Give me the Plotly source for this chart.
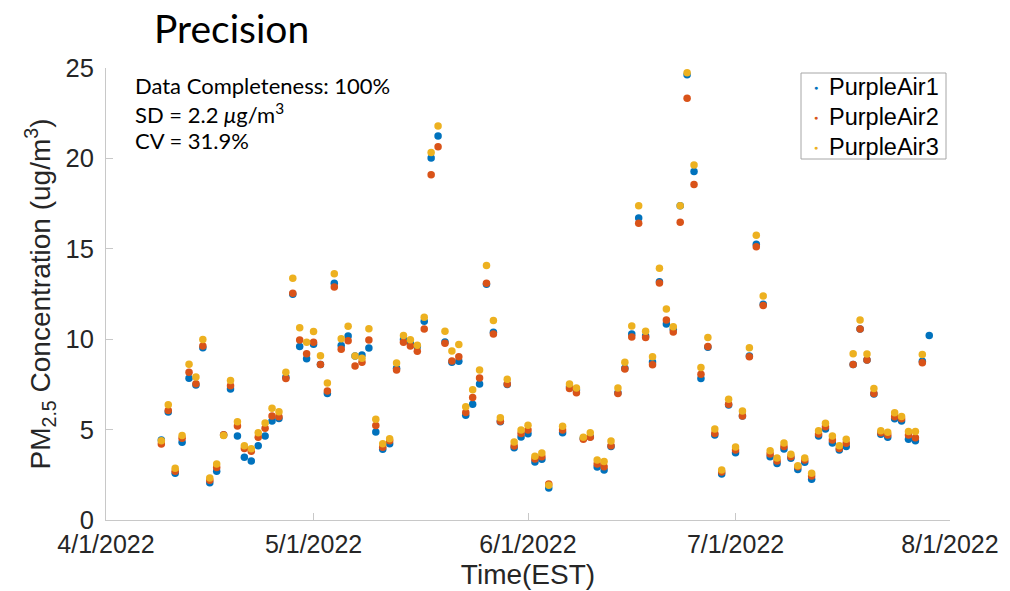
import plotly.graph_objects as go
import pandas as pd

# day offsets from 2022-04-01 (one value per day; 2022-06-05 missing)
day_offsets = list(range(8, 65)) + list(range(66, 120))

pa1 = [4.42, 5.97, 2.58, 4.30, 7.84, 7.47, 9.53, 2.06, 2.69, 4.70,
       7.25, 4.65, 3.47, 3.26, 4.11, 4.65, 5.48, 5.62, 7.89, 12.48,
       9.59, 8.92, 9.72, 8.60, 7.00, 13.09, 9.65, 10.18, 9.07, 9.13,
       9.51, 4.87, 3.91, 4.22, 8.39, 9.99, 9.77, 9.59, 10.99, 20.02,
       21.24, 9.85, 8.72, 8.78, 5.79, 6.40, 7.52, 13.04, 10.38, 5.44,
       7.50, 4.00, 4.59, 4.77, 3.21, 3.36, 1.77,
       4.83, 7.37, 7.19, 4.52, 4.61, 2.93, 2.77, 4.06, 7.04, 8.39,
       10.29, 16.70, 10.18, 8.74, 13.18, 10.84, 10.55, 17.38, 24.63, 19.27,
       7.82, 9.55, 4.70, 2.54, 6.36, 3.72, 5.75, 9.07, 15.25, 11.93,
       3.50, 3.13, 3.93, 3.41, 2.80, 3.19, 2.25, 4.65, 5.03, 4.26,
       3.87, 4.06, 8.60, 10.56, 8.85, 6.97, 4.74, 4.57, 5.60, 5.48,
       4.46, 4.39, 8.78, 10.20]

pa2 = [4.20, 6.05, 2.70, 4.52, 8.17, 7.54, 9.62, 2.20, 2.91, 4.72,
       7.43, 5.20, 3.96, 3.80, 4.57, 5.07, 5.75, 5.71, 7.82, 12.54,
       9.96, 9.20, 9.83, 8.60, 7.13, 12.89, 9.44, 9.92, 8.52, 8.72,
       9.96, 5.22, 4.02, 4.39, 8.30, 9.83, 9.62, 9.33, 10.56, 19.10,
       20.65, 9.77, 8.79, 9.03, 5.94, 6.77, 7.85, 13.09, 10.29, 5.46,
       7.52, 4.09, 4.79, 4.98, 3.37, 3.50, 1.99,
       4.98, 7.28, 7.04, 4.46, 4.57, 3.10, 2.95, 4.11, 7.00, 8.35,
       10.12, 16.41, 10.10, 8.59, 13.11, 11.06, 10.40, 16.47, 23.32, 18.55,
       8.06, 9.59, 4.79, 2.65, 6.40, 3.87, 5.75, 9.03, 15.12, 11.87,
       3.65, 3.26, 4.06, 3.50, 2.95, 3.32, 2.43, 4.76, 5.16, 4.42,
       3.96, 4.24, 8.60, 10.56, 8.85, 7.00, 4.83, 4.70, 5.71, 5.60,
       4.70, 4.55, 8.70, None]

pa3 = [4.39, 6.38, 2.86, 4.68, 8.61, 7.91, 9.99, 2.32, 3.10, 4.68,
       7.72, 5.44, 4.11, 3.94, 4.83, 5.36, 6.18, 5.99, 8.17, 13.37,
       10.64, 9.83, 10.42, 9.09, 7.58, 13.62, 10.03, 10.71, 9.07, 8.94,
       10.58, 5.57, 4.22, 4.50, 8.68, 10.20, 9.97, 9.66, 11.21, 20.32,
       21.79, 10.44, 9.35, 9.70, 6.27, 7.21, 8.30, 14.07, 11.04, 5.66,
       7.78, 4.31, 4.98, 5.24, 3.52, 3.71, 1.92,
       5.18, 7.52, 7.30, 4.57, 4.83, 3.32, 3.23, 4.37, 7.30, 8.72,
       10.73, 17.38, 10.44, 9.03, 13.92, 11.67, 10.69, 17.38, 24.74, 19.63,
       8.44, 10.10, 5.03, 2.77, 6.68, 4.04, 6.03, 9.53, 15.75, 12.39,
       3.83, 3.43, 4.26, 3.63, 3.00, 3.43, 2.58, 4.94, 5.35, 4.65,
       4.11, 4.46, 9.20, 11.06, 9.18, 7.28, 4.94, 4.85, 5.93, 5.73,
       4.89, 4.90, 9.16, None]

series_names = ["PurpleAir1", "PurpleAir2", "PurpleAir3"]
series_colors = ["#0072BD", "#D95319", "#EDB120"]
x_tick_labels = ["4/1/2022", "5/1/2022", "6/1/2022", "7/1/2022", "8/1/2022"]
y_ticks = [0, 5, 10, 15, 20, 25]

dates = pd.Timestamp("2022-04-01") + pd.to_timedelta(day_offsets, unit="D")
tick_dates = pd.to_datetime(x_tick_labels, format="%m/%d/%Y")

fig = go.Figure()
for name, vals, col in zip(series_names, [pa1, pa2, pa3], series_colors):
    fig.add_trace(go.Scatter(x=dates, y=vals, mode="markers", name=name,
                             marker=dict(color=col, size=7.5, line=dict(width=0)),
                             showlegend=False))

axis_col = "#c8c8c8"
FONT = "Liberation Sans, Arial"
x_tick_font = dict(family=FONT, size=25, color="#262626")
y_tick_font = dict(family=FONT, size=25.5, color="#262626")
title_font = dict(family=FONT, size=28, color="#262626")

# plot area in pixels
L, R, T, B = 106, 950, 68, 520
W, H = R - L, B - T


def px(xp):
    return (xp - L) / W


def py(yp):
    return (B - yp) / H


fig.update_layout(
    width=1010, height=591,
    margin=dict(l=L, r=1010 - R, t=T, b=591 - B),
    paper_bgcolor="white", plot_bgcolor="white",
    showlegend=False,
    xaxis=dict(range=[tick_dates[0], tick_dates[-1]], tickvals=tick_dates,
               ticktext=x_tick_labels, showgrid=False, zeroline=False,
               showline=True, linecolor=axis_col, linewidth=1,
               ticks="inside", ticklen=7, tickcolor=axis_col,
               tickfont=x_tick_font, ticklabelstandoff=2, automargin=False,
               title=dict(text="Time(EST)", font=title_font, standoff=7)),
    yaxis=dict(range=[0, 25], tickvals=y_ticks, showgrid=False, zeroline=False,
               showline=True, linecolor=axis_col, linewidth=1,
               ticks="inside", ticklen=7, tickcolor=axis_col,
               tickfont=y_tick_font, ticklabelstandoff=6, automargin=False,
               title=dict(text="PM<sub>2.5</sub> Concentration (ug/m<sup>3</sup>)",
                          font=title_font, standoff=6)),
)

# custom legend box
fig.add_shape(type="rect", xref="paper", yref="paper",
              x0=px(801), x1=px(946), y0=py(159), y1=py(73),
              line=dict(color="#a6a6a6", width=1), fillcolor="white", layer="above")
legend_y = [87, 117, 147]
for name, col, yy in zip(series_names, series_colors, legend_y):
    fig.add_annotation(text="●", xref="paper", yref="paper", x=px(816), y=py(yy),
                       xanchor="center", yanchor="middle", showarrow=False,
                       font=dict(family=FONT, size=7, color=col))
    fig.add_annotation(text=name, xref="paper", yref="paper", x=px(827), y=py(yy),
                       xanchor="left", yanchor="middle", showarrow=False,
                       font=dict(family=FONT, size=23.5, color="#000000"))

fig.add_annotation(text="Precision", xref="paper", yref="paper",
                   x=px(152), y=py(28), xanchor="left", yanchor="middle",
                   showarrow=False, font=dict(family="Lato, Open Sans", size=39, color="#000000"))

stats_lines = ["Data Completeness: 100%", "SD = 2.2 <i>μ</i>g/m<sup>3</sup>", "CV = 31.9%"]
stats_y = [86, 113, 140]
for line, yy in zip(stats_lines, stats_y):
    fig.add_annotation(text=line, xref="paper", yref="paper",
                       x=px(133), y=py(yy), xanchor="left", yanchor="middle",
                       showarrow=False, font=dict(family="Lato, Open Sans", size=22, color="#000000"))

fig.write_html("out.html")
